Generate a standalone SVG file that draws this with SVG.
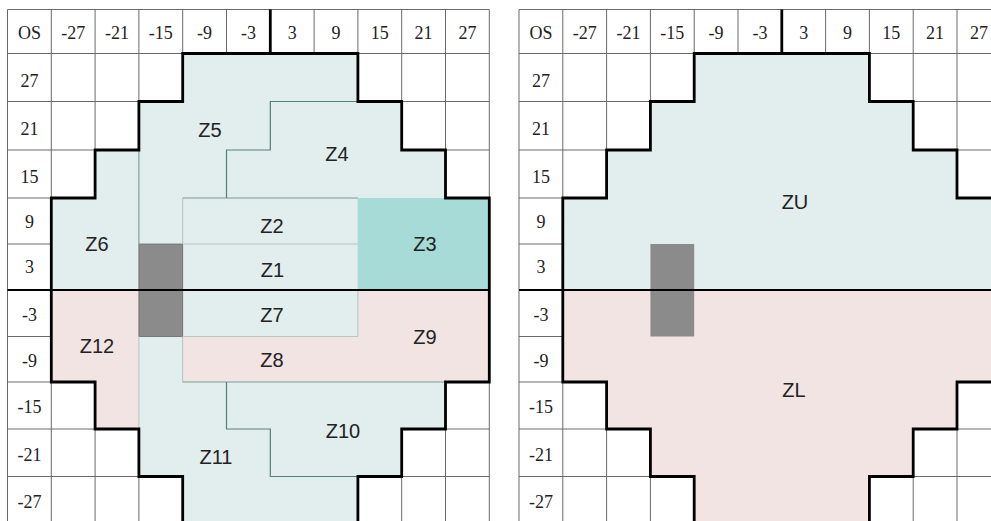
<svg xmlns="http://www.w3.org/2000/svg" width="991" height="521" viewBox="0 0 991 521">
<style>
.grid{stroke:#6a6a6a;stroke-width:1;fill:none}
.teal{fill:#e2eded}
.pink{fill:#f3e4e4}
.z3{fill:#a6dbd8}
.bs{fill:#8b8b8b}
.bd{stroke:#55807d;stroke-width:1.2;fill:none}
.bm{stroke:#7a9b98;stroke-width:1.1;fill:none}
.bl{stroke:#b3c7c6;stroke-width:1;fill:none}
.outline{stroke:#000;stroke-width:2.8;fill:none;stroke-linejoin:miter}
.mid{stroke:#000;stroke-width:2.2}
.num{font-family:"Liberation Serif",serif;font-size:18px;fill:#222;text-anchor:middle}
.lab{font-family:"Liberation Sans",Arial,sans-serif;font-size:20px;fill:#222;text-anchor:middle}
</style>
<rect width="991" height="521" fill="#fff"/>

<!-- LEFT GRID -->
<g id="left-grid-lines" class="grid">
<path d="M7.5 9.5V521M51.3 9.5V521M95.1 9.5V521M138.9 9.5V521M182.7 9.5V521M226.5 9.5V521M270.3 9.5V521M314.1 9.5V521M357.9 9.5V521M401.7 9.5V521M445.5 9.5V521M489.3 9.5V521"/>
<path d="M7.5 9.5H489.3M7.5 53.5H489.3M7.5 101.5H489.3M7.5 150H489.3M7.5 198H489.3M7.5 244H489.3M7.5 290H489.3M7.5 336.5H489.3M7.5 382H489.3M7.5 429H489.3M7.5 476.5H489.3"/>
</g>

<g id="Z5"><polygon class="teal" points="182.7,53.5 357.9,53.5 357.9,101.5 270.3,101.5 270.3,150 226.5,150 226.5,198 182.7,198 182.7,244 138.9,244 138.9,101.5 182.7,101.5"/><text class="lab" x="210" y="136.7">Z5</text></g>
<g id="Z4"><polygon class="teal" points="270.3,101.5 401.7,101.5 401.7,150 445.5,150 445.5,198 226.5,198 226.5,150 270.3,150"/><text class="lab" x="337" y="160.7">Z4</text></g>
<g id="Z6"><polygon class="teal" points="95.1,150 138.9,150 138.9,290 51.3,290 51.3,198 95.1,198"/><text class="lab" x="97" y="251">Z6</text></g>
<g id="Z2"><rect class="teal" x="182.7" y="198" width="175.2" height="46"/><text class="lab" x="272" y="232.5">Z2</text></g>
<g id="Z1"><rect class="teal" x="182.7" y="244" width="175.2" height="46"/><text class="lab" x="272.5" y="276.7">Z1</text></g>
<g id="Z3"><rect class="z3" x="357.9" y="198" width="131.4" height="92"/><text class="lab" x="425" y="251">Z3</text></g>
<g id="Z7"><rect class="teal" x="182.7" y="290" width="175.2" height="46.5"/><text class="lab" x="272" y="321.7">Z7</text></g>
<g id="Z8"><rect class="pink" x="182.7" y="336.5" width="175.6" height="45.5"/><text class="lab" x="272" y="366.7">Z8</text></g>
<g id="Z9"><rect class="pink" x="357.9" y="290" width="131.4" height="92"/><text class="lab" x="425" y="344">Z9</text></g>
<g id="Z12"><polygon class="pink" points="51.3,290 138.9,290 138.9,429 95.1,429 95.1,382 51.3,382"/><text class="lab" x="97" y="352.7">Z12</text></g>
<g id="Z11"><polygon class="teal" points="138.9,336.5 182.7,336.5 182.7,382 226.5,382 226.5,429 270.3,429 270.3,476.5 357.9,476.5 357.9,524 182.7,524 182.7,476.5 138.9,476.5"/><text class="lab" x="216" y="464">Z11</text></g>
<g id="Z10"><polygon class="teal" points="226.5,382 445.5,382 445.5,429 401.7,429 401.7,476.5 270.3,476.5 270.3,429 226.5,429"/><text class="lab" x="343" y="437.7">Z10</text></g>
<g id="blindspot-left"><rect class="bs" x="138.9" y="244" width="43.8" height="92.5" stroke="#6f6f6f" stroke-width="0.8"/></g>

<g id="left-boundaries">
<path class="bl" d="M182.7 198V244M182.7 244H357.9M182.7 336.5H357.9V290M182.7 336.5V382M138.9 336.5V429"/>
<path class="bm" d="M138.9 150V244M182.7 198H357.9M182.7 382H445.5"/>
<path class="bd" d="M357.9 101.5H270.3V150H226.5V198"/>
<path class="bd" d="M226.5 382V429H270.3V476.5H357.9"/>
</g>

<g id="left-outline">
<polygon class="outline" points="182.7,53.5 357.9,53.5 357.9,101.5 401.7,101.5 401.7,150 445.5,150 445.5,198 489.3,198 489.3,382 445.5,382 445.5,429 401.7,429 401.7,476.5 357.9,476.5 357.9,524 182.7,524 182.7,476.5 138.9,476.5 138.9,429 95.1,429 95.1,382 51.3,382 51.3,198 95.1,198 95.1,150 138.9,150 138.9,101.5 182.7,101.5"/>
<line class="mid" x1="7.5" y1="290" x2="489.3" y2="290"/>
<line x1="270.3" y1="9.5" x2="270.3" y2="53.5" stroke="#000" stroke-width="2.8"/>
</g>

<g id="left-labels" class="num">
<text x="29.4" y="39.3">OS</text>
<text x="73.2" y="39.3">-27</text>
<text x="117" y="39.3">-21</text>
<text x="160.8" y="39.3">-15</text>
<text x="204.6" y="39.3">-9</text>
<text x="248.4" y="39.3">-3</text>
<text x="292.2" y="39.3">3</text>
<text x="336" y="39.3">9</text>
<text x="379.8" y="39.3">15</text>
<text x="423.6" y="39.3">21</text>
<text x="467.4" y="39.3">27</text>
<text x="29.4" y="86.7">27</text>
<text x="29.4" y="135">21</text>
<text x="29.4" y="182.7">15</text>
<text x="29.4" y="228.3">9</text>
<text x="29.4" y="273.3">3</text>
<text x="29.4" y="320.7">-3</text>
<text x="29.4" y="366.7">-9</text>
<text x="29.4" y="413.3">-15</text>
<text x="29.4" y="460.7">-21</text>
<text x="29.4" y="507.7">-27</text>
</g>

<!-- RIGHT GRID -->
<g id="right-grid-lines" class="grid">
<path d="M519 9.5V521M562.8 9.5V521M606.6 9.5V521M650.4 9.5V521M694.2 9.5V521M738 9.5V521M781.8 9.5V521M825.6 9.5V521M869.4 9.5V521M913.2 9.5V521M957 9.5V521"/>
<path d="M519 9.5H1001M519 53.5H1001M519 101.5H1001M519 150H1001M519 198H1001M519 244H1001M519 290H1001M519 336.5H1001M519 382H1001M519 429H1001M519 476.5H1001"/>
</g>

<g id="ZU"><polygon class="teal" points="694.2,53.5 869.4,53.5 869.4,101.5 913.2,101.5 913.2,150 957,150 957,198 1000.8,198 1000.8,290 562.8,290 562.8,198 606.6,198 606.6,150 650.4,150 650.4,101.5 694.2,101.5"/><text class="lab" x="795" y="209">ZU</text></g>
<g id="ZL"><polygon class="pink" points="562.8,290 1000.8,290 1000.8,382 957,382 957,429 913.2,429 913.2,476.5 869.4,476.5 869.4,524 694.2,524 694.2,476.5 650.4,476.5 650.4,429 606.6,429 606.6,382 562.8,382"/><text class="lab" x="794" y="397.3">ZL</text></g>
<g id="blindspot-right"><rect class="bs" x="650.4" y="244" width="43.8" height="92.5"/></g>

<g id="right-outline">
<polygon class="outline" points="694.2,53.5 869.4,53.5 869.4,101.5 913.2,101.5 913.2,150 957,150 957,198 1000.8,198 1000.8,382 957,382 957,429 913.2,429 913.2,476.5 869.4,476.5 869.4,524 694.2,524 694.2,476.5 650.4,476.5 650.4,429 606.6,429 606.6,382 562.8,382 562.8,198 606.6,198 606.6,150 650.4,150 650.4,101.5 694.2,101.5"/>
<line class="mid" x1="519" y1="290" x2="1001" y2="290"/>
<line x1="781.8" y1="9.5" x2="781.8" y2="53.5" stroke="#000" stroke-width="2.8"/>
</g>

<g id="right-labels" class="num">
<text x="540.9" y="39.3">OS</text>
<text x="584.7" y="39.3">-27</text>
<text x="628.5" y="39.3">-21</text>
<text x="672.3" y="39.3">-15</text>
<text x="716.1" y="39.3">-9</text>
<text x="759.9" y="39.3">-3</text>
<text x="803.7" y="39.3">3</text>
<text x="847.5" y="39.3">9</text>
<text x="891.3" y="39.3">15</text>
<text x="935.1" y="39.3">21</text>
<text x="978.9" y="39.3">27</text>
<text x="540.9" y="86.7">27</text>
<text x="540.9" y="135">21</text>
<text x="540.9" y="182.7">15</text>
<text x="540.9" y="228.3">9</text>
<text x="540.9" y="273.3">3</text>
<text x="540.9" y="320.7">-3</text>
<text x="540.9" y="366.7">-9</text>
<text x="540.9" y="413.3">-15</text>
<text x="540.9" y="460.7">-21</text>
<text x="540.9" y="507.7">-27</text>
</g>
</svg>
